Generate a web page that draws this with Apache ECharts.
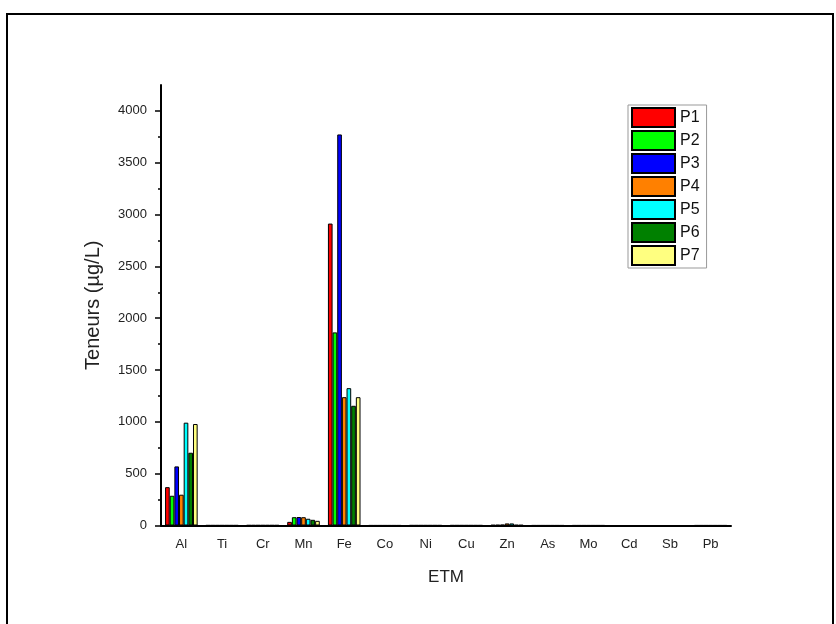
<!DOCTYPE html>
<html>
<head>
<meta charset="utf-8">
<script src="https://cdn.jsdelivr.net/npm/echarts@6/dist/echarts.min.js"></script>
<style>
  html, body { margin: 0; padding: 0; background: #fff; }
  #chart { width: 836px; height: 624px; }
</style>
</head>
<body>
<div id="chart"></div>
<script>
// Trace metal concentrations (µg/L) per sampling point
const elements = ['Al', 'Ti', 'Cr', 'Mn', 'Fe', 'Co', 'Ni', 'Cu', 'Zn', 'As', 'Mo', 'Cd', 'Sb', 'Pb'];
const P1 = [370, 2, 3, 35, 2913, 1, 2, 2, 5, 1, 1, 0, 0, 1];
const P2 = [287, 2, 3, 80, 1863, 1, 2, 2, 6, 1, 1, 0, 0, 1];
const P3 = [570, 2, 3, 82, 3773, 1, 2, 2, 8, 1, 1, 0, 0, 1];
const P4 = [297, 2, 3, 80, 1238, 1, 2, 2, 20, 1, 1, 0, 0, 1];
const P5 = [992, 2, 3, 65, 1325, 1, 2, 2, 20, 1, 1, 0, 0, 1];
const P6 = [702, 2, 3, 55, 1155, 1, 2, 2, 6, 1, 1, 0, 0, 1];
const P7 = [979, 2, 3, 45, 1238, 1, 2, 2, 5, 1, 1, 0, 0, 1];
const seriesNames = ['P1', 'P2', 'P3', 'P4', 'P5', 'P6', 'P7'];
const seriesValues = [P1, P2, P3, P4, P5, P6, P7];
const seriesColors = ['#ff0000', '#00ff00', '#0000ff', '#ff8000', '#00ffff', '#008000', '#ffff80'];

const yMajorTicks = [0, 500, 1000, 1500, 2000, 2500, 3000, 3500, 4000];
const yMinorTicks = [250, 750, 1250, 1750, 2250, 2750, 3250, 3750];
const yMax = 4250;

const font = '"Liberation Sans", Arial, sans-serif';
const chart = echarts.init(document.getElementById('chart'));

const series = seriesNames.map((name, i) => ({
  name: name,
  type: 'bar',
  xAxisIndex: 0,
  yAxisIndex: 0,
  data: seriesValues[i],
  barGap: '0%',
  barCategoryGap: '20%',
  itemStyle: { color: seriesColors[i], borderColor: '#000', borderWidth: 1 },
  emphasis: { disabled: true }
}));

chart.setOption({
  animation: false,
  backgroundColor: '#fff',
  textStyle: { fontFamily: font },
  grid: { left: 161, right: 105, top: 85, bottom: 98.5, containLabel: false },
  legend: {
    orient: 'vertical',
    left: 628,
    top: 105,
    data: seriesNames,
    icon: 'rect',
    itemWidth: 43,
    itemHeight: 19,
    itemGap: 2,
    padding: [2, 7, 2, 3],
    borderColor: '#999',
    borderWidth: 1,
    textStyle: { fontSize: 16, lineHeight: 19, color: '#111', fontFamily: font },
    selectedMode: false
  },
  xAxis: [
    {
      type: 'category',
      data: elements,
      name: 'ETM',
      nameLocation: 'middle',
      nameGap: 43,
      nameTextStyle: { fontSize: 17, color: '#222', fontFamily: font },
      axisLine: { lineStyle: { color: '#000', width: 2 } },
      axisTick: { alignWithLabel: true, length: 6, lineStyle: { color: '#000', width: 2 } },
      axisLabel: { fontSize: 13, color: '#222', margin: 12, fontFamily: font },
      splitLine: { show: false }
    },
    {
      type: 'category',
      data: elements,
      position: 'bottom',
      axisLine: { show: false },
      axisTick: { alignWithLabel: false, length: 3, lineStyle: { color: '#000', width: 1.5 } },
      axisLabel: { show: false },
      splitLine: { show: false }
    }
  ],
  yAxis: [
    {
      type: 'value',
      min: 0,
      max: yMax,
      name: 'Teneurs (µg/L)',
      nameLocation: 'middle',
      nameGap: 58,
      nameTextStyle: { fontSize: 20, color: '#222', fontFamily: font },
      axisLine: { show: true, lineStyle: { color: '#000', width: 2 } },
      axisTick: { show: true, length: 6, customValues: yMajorTicks, lineStyle: { color: '#000', width: 1.5 } },
      axisLabel: {
        fontSize: 13, color: '#222', margin: 14, customValues: yMajorTicks, fontFamily: font,
        formatter: (v) => String(v)
      },
      splitLine: { show: false }
    },
    {
      type: 'value',
      min: 0,
      max: yMax,
      position: 'left',
      axisLine: { show: false },
      axisTick: { show: true, length: 3, customValues: yMinorTicks, lineStyle: { color: '#000', width: 1.5 } },
      axisLabel: { show: false },
      splitLine: { show: false }
    }
  ],
  graphic: [
    {
      type: 'rect',
      shape: { x: 7, y: 14, width: 826, height: 640 },
      style: { fill: 'none', stroke: '#000', lineWidth: 2 },
      silent: true,
      z: 100
    }
  ],
  series: series
});
</script>
</body>
</html>
